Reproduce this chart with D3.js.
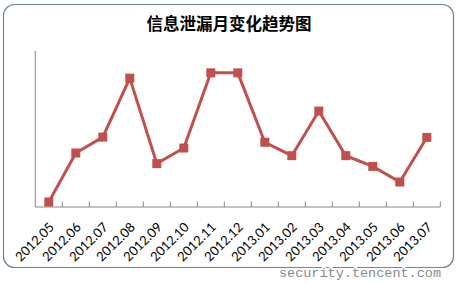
<!DOCTYPE html>
<html>
<head>
<meta charset="utf-8">
<script src="https://cdn.jsdelivr.net/npm/d3@7"></script>
<style>
  body { margin: 0; background: #fff; }
  svg { display: block; }
</style>
</head>
<body>
<svg width="458" height="283"></svg>
<script>
var months = ["2012.05", "2012.06", "2012.07", "2012.08", "2012.09", "2012.10", "2012.11",
              "2012.12", "2013.01", "2013.02", "2013.03", "2013.04", "2013.05", "2013.06", "2013.07"];
// relative leak counts (no y labels in the original)
var counts = [3.2, 34.6, 44.8, 82.6, 27.8, 37.8, 86, 86, 41.5, 32.9, 61.5, 32.9, 26, 16, 44.6];
var title = "信息泄漏月变化趋势图";
var watermark = "security.tencent.com";

var svg = d3.select("svg"),
    plotLeft = 35.3, plotRight = 440.3, plotTop = 51, plotBottom = 207;

// outer rounded frame
svg.append("rect")
    .attr("x", 3.5).attr("y", 4.5)
    .attr("width", 450).attr("height", 263)
    .attr("rx", 11).attr("ry", 11)
    .attr("fill", "#fff")
    .attr("stroke", "#6d8797")
    .attr("stroke-width", 1.2);

svg.append("text")
    .attr("x", 229).attr("y", 30)
    .attr("text-anchor", "middle")
    .attr("font-family", "'Noto Sans CJK SC', sans-serif")
    .attr("font-size", 16.5)
    .attr("font-weight", "bold")
    .attr("fill", "#000")
    .text(title);

var x = d3.scaleBand().domain(months).range([plotLeft, plotRight]);
var y = d3.scaleLinear().domain([0, 100]).range([plotBottom, plotTop]);

// y axis line only
svg.append("line")
    .attr("x1", plotLeft).attr("x2", plotLeft)
    .attr("y1", plotTop).attr("y2", plotBottom)
    .attr("stroke", "#868686").attr("stroke-width", 1);

// x axis with inside ticks at category boundaries
var xAxis = svg.append("g").attr("transform", "translate(0," + plotBottom + ")");
xAxis.append("line")
    .attr("x1", plotLeft).attr("x2", plotRight)
    .attr("stroke", "#868686").attr("stroke-width", 1);
xAxis.selectAll(".tk")
    .data(months)
    .enter().append("line")
    .attr("class", "tk")
    .attr("x1", function(d) { return x(d) + x.bandwidth(); })
    .attr("x2", function(d) { return x(d) + x.bandwidth(); })
    .attr("y1", 0).attr("y2", -5.5)
    .attr("stroke", "#868686").attr("stroke-width", 1);

xAxis.selectAll(".lbl")
    .data(months)
    .enter().append("text")
    .attr("class", "lbl")
    .attr("transform", function(d) {
      return "translate(" + (x(d) + x.bandwidth() / 2 + 6) + ",21) rotate(-45)";
    })
    .attr("text-anchor", "end")
    .attr("font-family", "Lato, 'Open Sans', sans-serif")
    .attr("font-size", 13)
    .attr("fill", "#000")
    .text(function(d) { return d; });

var color = "#c0504d";
var line = d3.line()
    .x(function(d, i) { return x(months[i]) + x.bandwidth() / 2; })
    .y(function(d) { return y(d); });

svg.append("path")
    .datum(counts)
    .attr("d", line)
    .attr("fill", "none")
    .attr("stroke", color)
    .attr("stroke-width", 3);

svg.selectAll(".mk")
    .data(counts)
    .enter().append("rect")
    .attr("class", "mk")
    .attr("x", function(d, i) { return x(months[i]) + x.bandwidth() / 2 - 4.5; })
    .attr("y", function(d) { return y(d) - 4.5; })
    .attr("width", 9).attr("height", 9)
    .attr("fill", color);

svg.append("text")
    .attr("x", 441).attr("y", 277)
    .attr("text-anchor", "end")
    .attr("font-family", "'Liberation Mono', monospace")
    .attr("font-size", 13.5)
    .attr("fill", "#8a8a8a")
    .attr("stroke", "#fff")
    .attr("stroke-width", 2.5)
    .attr("paint-order", "stroke")
    .text(watermark);
</script>
</body>
</html>
